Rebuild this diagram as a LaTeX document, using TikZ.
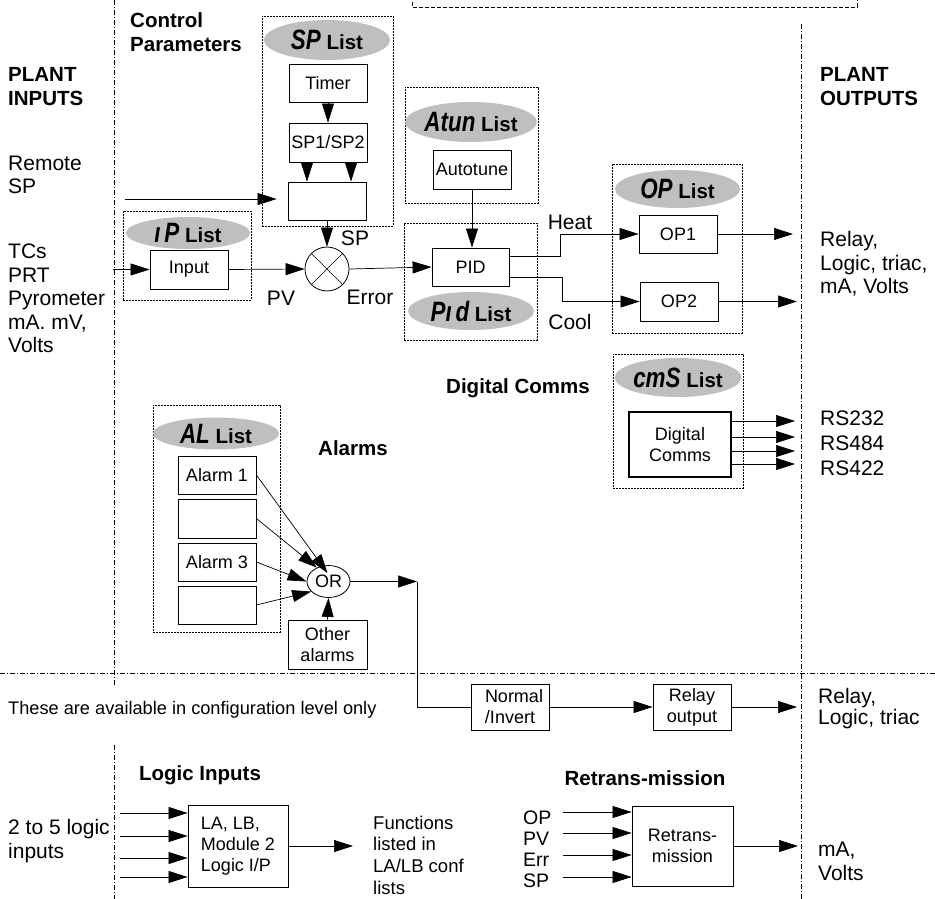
\documentclass[tikz,border=0pt]{standalone}
\usepackage{fontspec}
\usepackage{graphicx}
\setmainfont{Liberation Sans}
\usetikzlibrary{arrows.meta,shapes.geometric}
\newcommand\segtxt[1]{{\fontsize{28}{28}\selectfont\bfseries\itshape\scalebox{0.8}[1]{#1}}}
\begin{document}
\begin{tikzpicture}[x=1pt,y=-1pt,
  arr/.style={-{Triangle[length=19pt,width=12pt]}, line width=0.7pt},
  ln/.style={line width=0.7pt},
  blk/.style={draw, line width=0.8pt, inner sep=0pt, font=\fontsize{18}{21}\selectfont, align=center},
  lbox/.style={draw, dash pattern=on 1.6pt off 1.4pt, line width=0.7pt, inner sep=0pt},
  lell/.style={ellipse, fill=black!25, inner sep=0pt, font=\fontsize{20.5}{22}\selectfont\bfseries},
  side/.style={anchor=west, align=left, inner sep=0pt, font=\fontsize{21}{23.5}\selectfont},
  small/.style={anchor=west, align=left, inner sep=0pt, font=\fontsize{18.5}{21.7}\selectfont},
  lbl/.style={inner sep=0pt, font=\fontsize{21}{23.5}\selectfont},
  bold/.style={inner sep=0pt, align=left, font=\fontsize{20.5}{24}\selectfont\bfseries},
  sepline/.style={dash pattern=on 5pt off 2pt on 1pt off 2pt, line width=0.6pt},
  topbox/.style={draw, dash pattern=on 4pt off 2pt, line width=0.6pt}]
\useasboundingbox (0,0) rectangle (935,899);

% separators
\draw[sepline] (114,0) -- (114,687);
\draw[sepline] (114,745) -- (114,899);
\draw[sepline] (801,24) -- (801,899);
\draw[sepline] (0,673) -- (935,673);
\draw[topbox] (412,-10) rectangle (857,7);

% list boxes (dotted)
\node[lbox, minimum width=131, minimum height=210] (splist) at (327.5,121) {};
\node[lbox, minimum width=128, minimum height=89] (iplist) at (187,255.5) {};
\node[lbox, minimum width=133, minimum height=116] (atlist) at (471.5,145) {};
\node[lbox, minimum width=133, minimum height=117] (pidlist) at (470.5,281.5) {};
\node[lbox, minimum width=130, minimum height=169] (oplist) at (677,248.5) {};
\node[lbox, minimum width=130, minimum height=134] (cmlist) at (678,421) {};
\node[lbox, minimum width=127, minimum height=227] (allist) at (216.5,518.5) {};

% gray list ellipses
\node[lell, minimum width=126, minimum height=40] (spell) at (327,40) {\segtxt{SP} List};
\node[lell, minimum width=124, minimum height=32] (ipell) at (188,233) {\segtxt{ı\,P} List};
\node[lell, minimum width=126, minimum height=40] (atell) at (471,122) {\segtxt{Atun} List};
\node[lell, minimum width=126, minimum height=38] (pidell) at (471,311) {\segtxt{Pı\,d} List};
\node[lell, minimum width=125, minimum height=38] (opell) at (677.5,189) {\segtxt{OP} List};
\node[lell, minimum width=124, minimum height=39] (cmell) at (678,377.5) {\segtxt{cmS} List};
\node[lell, minimum width=126, minimum height=32] (alell) at (216,433.5) {\segtxt{AL} List};

% blocks
\node[blk, minimum width=78, minimum height=38] (timer) at (328,83) {Timer};
\node[blk, minimum width=78, minimum height=39] (sp12) at (328,142.5) {SP1/SP2};
\node[blk, minimum width=78, minimum height=38] (spe) at (327,201) {};
\node[blk, minimum width=78, minimum height=39] (input) at (189,269.5) {Input};
\node[blk, minimum width=78, minimum height=39] (autotune) at (472,169.5) {Autotune};
\node[blk, minimum width=77, minimum height=38] (pid) at (470.5,267) {PID};
\node[blk, minimum width=78, minimum height=38] (op1) at (678,234) {OP1};
\node[blk, minimum width=78, minimum height=39] (op2) at (679,301.5) {OP2};
\node[blk, line width=1.8pt, minimum width=102, minimum height=65] (dc) at (680,444.5) {Digital\\Comms};
\node[blk, minimum width=78, minimum height=38] (al1) at (217,475) {Alarm 1};
\node[blk, minimum width=78, minimum height=39] (al2) at (217,518.5) {};
\node[blk, minimum width=78, minimum height=38] (al3) at (217,562) {Alarm 3};
\node[blk, minimum width=78, minimum height=38] (al4) at (217,605) {};
\node[blk, minimum width=79, minimum height=49] (other) at (327.5,644.5) {Other\\alarms};
\node[blk, minimum width=78, minimum height=46] (norm) at (510,707) {\hspace*{8pt}Normal\\/Invert};
\node[blk, minimum width=78, minimum height=46] (relay) at (692,707) {Relay\\output};
\node[blk, minimum width=100, minimum height=82, align=left] (lb) at (238,846) {LA, LB,\\Module 2\\Logic I/P};
\node[blk, minimum width=101, minimum height=80] (rt) at (682.5,846) {Retrans-\\mission};

% junctions
\node[circle, draw, line width=0.8pt, minimum size=44, inner sep=0pt] (sum) at (327,269) {};
\draw[ln] (sum.45) -- (sum.225) (sum.135) -- (sum.315);
\node[ellipse, draw, line width=0.8pt, minimum width=43, minimum height=32, inner sep=0pt, font=\fontsize{18}{21}\selectfont] (or) at (328.5,581.5) {OR};

% texts
\node[bold, anchor=west] (plin) at (8,87) {PLANT\\INPUTS};
\node[bold, anchor=west] (ctrl) at (130,32) {Control\\Parameters};
\node[side] (remote) at (8,175) {Remote\\SP};
\node[side] (tcs) at (8,298.5) {TCs\\PRT\\Pyrometer\\mA. mV,\\Volts};
\node[bold, anchor=west] (plout) at (820,87) {PLANT\\OUTPUTS};
\node[side] (relt) at (820,264) {Relay,\\Logic, triac,\\mA, Volts};
\node[side, font=\fontsize{21}{25}\selectfont] (rs) at (820,443) {RS232\\RS484\\RS422};
\node[bold] (dclab) at (518,388) {Digital Comms};
\node[bold] (alarms) at (353,448) {Alarms};
\node[small, font=\fontsize{18.2}{21}\selectfont] (avail) at (8,710) {These are available in configuration level only};
\node[side, font=\fontsize{21}{21}\selectfont] (relb) at (818,709) {Relay,\\Logic, triac};
\node[bold] (login) at (200,775) {Logic Inputs};
\node[side] (two) at (8,841) {2 to 5 logic\\inputs};
\node[small] (func) at (373,855) {Functions\\listed in\\LA/LB conf\\lists};
\node[bold] (retr) at (645,778) {Retrans-mission};
\node[small, font=\fontsize{19.5}{21}\selectfont] (rtin) at (523,849.5) {OP\\PV\\Err\\SP};
\node[side, font=\fontsize{21}{24}\selectfont] (mav) at (818,861) {mA,\\Volts};
\node[lbl] (pvl) at (281,298) {PV};
\node[lbl] (spl) at (355,238) {SP};
\node[lbl] (errl) at (370,297) {Error};
\node[lbl] (heat) at (570,222) {Heat};
\node[lbl] (cool) at (570,322) {Cool};

% free ends
\coordinate (rsp) at (125,199);
\coordinate (inp) at (113,269.5);
\coordinate (op1o) at (793,234);
\coordinate (op2o) at (797,301.5);
\coordinate (orc) at (417,581.5);
\coordinate (orb) at (417,707);
\coordinate (relo) at (797,707);
\coordinate (lbo) at (353,846);
\coordinate (rto) at (798,846);
\coordinate (dco) at (795,0);
\coordinate (li1) at (120,813);
\coordinate (li2) at (120,836);
\coordinate (li3) at (120,858);
\coordinate (li4) at (120,877);
\coordinate (ri1) at (563,812);
\coordinate (ri2) at (563,833);
\coordinate (ri3) at (563,855);
\coordinate (ri4) at (563,877);

% connectors
\draw[arr] (rsp) -- ([xshift=-11pt]spe.west |- rsp);
\draw[arr] (inp) -- (input.west);
\draw[arr] (input.east) -- (sum.west);
\draw[arr] (timer.south) -- (sp12.north);
\draw[arr] ([xshift=-21pt]sp12.south) -- ([xshift=-20pt]spe.north);
\draw[arr] ([xshift=23pt]sp12.south) -- ([xshift=24pt]spe.north);
\draw[arr] (spe.south) -- (sum.north);
\draw[arr] (sum.east) -- (pid.west);
\draw[arr] (autotune.south) -- (autotune.south |- pid.north);
\draw[arr] ([yshift=11pt]pid.east) -- (560,256) -- (560,234) -- (op1.west);
\draw[arr] ([yshift=-10pt]pid.east) -- (562,277) -- (562,301.5) -- (op2.west);
\draw[arr] (op1.east) -- (op1o);
\draw[arr] (op2.east) -- (op2o);
\foreach \yy in {421,437,451,464}
  \draw[arr] (dc.east |- 0,\yy) -- (dco |- 0,\yy);
\draw[arr] (al1.east) -- ([shift={(-1pt,-8pt)}]or.north);
\draw[arr] (al2.east) -- (or.130);
\draw[arr] (al3.east) -- (or.west);
\draw[arr] (al4.east) -- (or.210);
\draw[arr] (other.north) -- (or.south);
\draw[arr] (or.east) -- (orc);
\draw[ln] (orc) -- (orb) -- (norm.west);
\draw[arr] (norm.east) -- (relay.west);
\draw[arr] (relay.east) -- (relo);
\foreach \c in {li1,li2,li3,li4}
  \draw[arr] (\c) -- (\c -| lb.west);
\draw[arr] (lb.east) -- (lbo);
\foreach \c in {ri1,ri2,ri3,ri4}
  \draw[arr] (\c) -- (\c -| rt.west);
\draw[arr] (rt.east) -- (rto);
\end{tikzpicture}
\end{document}
